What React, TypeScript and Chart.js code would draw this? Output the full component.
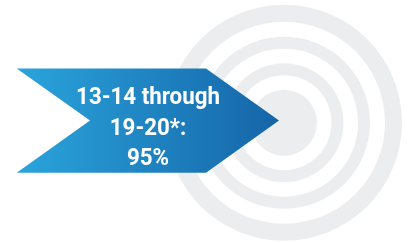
import React, { useEffect, useRef } from "react";
import { Chart, registerables } from "chart.js";

Chart.register(...registerables);

// Target rings, outer to inner: band thickness (px-equivalent weights) and whether the band is painted
const ringBands = [17, 15, 12, 14.5, 12, 14.5, 33];
const ringPainted = [true, false, true, false, true, false, true];

// Banner (arrow) outline in the overlay's value space
const arrowX = [16.7, 206, 279, 206, 16.7, 90, 16.7];
const arrowY = [68.5, 68.5, 120.6, 172.7, 172.7, 120.6, 68.5];

// Banner text
const labelLines = ["13-14 through", "19-20*:", "95%"];
const labelX = 148;
const labelBaselines = [104, 134.5, 164.5];

const W = 409;
const H = 243;

export default function App() {
  const ringRef = useRef<HTMLCanvasElement>(null);
  const arrowRef = useRef<HTMLCanvasElement>(null);

  useEffect(() => {
    document.body.style.margin = "0";
    const gray = "#ecedef";

    const rings = new Chart(ringRef.current!, {
      type: "doughnut",
      data: {
        labels: ["ring"],
        datasets: ringBands.map((w, i) => ({
          data: [1],
          weight: w,
          backgroundColor: ringPainted[i] ? gray : "rgba(0,0,0,0)",
          borderWidth: 0,
          hoverBackgroundColor: ringPainted[i] ? gray : "rgba(0,0,0,0)",
        })),
      },
      options: {
        animation: false,
        responsive: false,
        cutout: 0,
        events: [],
        layout: { padding: { left: 166, right: 7, top: 4.7, bottom: 2.3 } },
        plugins: { legend: { display: false }, tooltip: { enabled: false } },
      },
    });

    const bannerText = {
      id: "bannerText",
      afterDatasetsDraw(chart: any) {
        const { ctx, scales } = chart;
        const sx = 0.93;
        ctx.save();
        ctx.fillStyle = "#ffffff";
        ctx.font = "bold 24px Roboto";
        ctx.textAlign = "center";
        ctx.textBaseline = "alphabetic";
        labelLines.forEach((line, i) => {
          const px = scales.x.getPixelForValue(labelX);
          const py = scales.y.getPixelForValue(labelBaselines[i]);
          ctx.save();
          ctx.translate(px, py);
          ctx.scale(sx, 1);
          ctx.fillText(line, 0, 0);
          ctx.restore();
        });
        ctx.restore();
      },
    };

    const arrow = new Chart(arrowRef.current!, {
      type: "scatter",
      data: {
        datasets: [
          {
            data: arrowX.map((x, i) => ({ x, y: arrowY[i] })),
            showLine: true,
            fill: "shape",
            borderWidth: 0,
            borderColor: "rgba(0,0,0,0)",
            pointRadius: 0,
            tension: 0,
            backgroundColor: (c: any) => {
              const chart = c.chart;
              if (!chart.chartArea) return "#1f86c4";
              const xs = chart.scales.x;
              const g = chart.ctx.createLinearGradient(
                xs.getPixelForValue(Math.min(...arrowX)),
                0,
                xs.getPixelForValue(Math.max(...arrowX)),
                0
              );
              g.addColorStop(0, "#2aa4dc");
              g.addColorStop(1, "#1565a8");
              return g;
            },
          } as any,
        ],
      },
      options: {
        animation: false,
        responsive: false,
        events: [],
        layout: { padding: 0 },
        scales: {
          x: { type: "linear", min: 0, max: W, display: false },
          y: { type: "linear", min: 0, max: H, reverse: true, display: false },
        },
        plugins: { legend: { display: false }, tooltip: { enabled: false } },
      },
      plugins: [bannerText],
    });

    return () => {
      rings.destroy();
      arrow.destroy();
    };
  }, []);

  return (
    <div style={{ position: "fixed", left: 0, top: 0, width: W, height: H, background: "#fff" }}>
      <canvas ref={ringRef} width={W} height={H} style={{ position: "absolute", left: 0, top: 0 }} />
      <canvas ref={arrowRef} width={W} height={H} style={{ position: "absolute", left: 0, top: 0 }} />
    </div>
  );
}
